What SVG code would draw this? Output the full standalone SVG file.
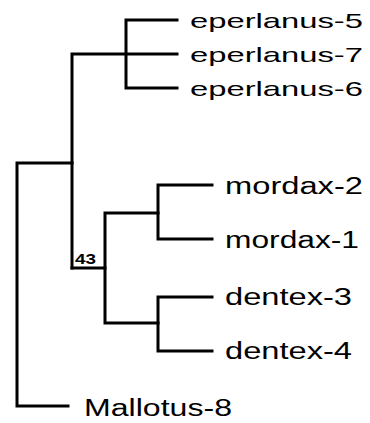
<svg xmlns="http://www.w3.org/2000/svg" width="370" height="423" viewBox="0 0 370 423">
<style>
.br{fill:none;stroke:#000;stroke-width:3;stroke-linecap:square;stroke-linejoin:miter}
.lab{font-family:"Liberation Sans",Arial,sans-serif;fill:#000}
.ep{font-size:21px}
.lf{font-size:23px}
.bs{font-family:"Liberation Sans",Arial,sans-serif;font-size:14px;font-weight:bold;fill:#000}
</style>
<rect width="370" height="423" fill="#fff"/>
<g id="connectors">
<path class="br" d="M68,406 H17 V163 H72"/>
<path class="br" d="M72,268 V54 H177"/>
<path class="br" d="M177,20 H126 V88 H177"/>
<path class="br" d="M72,268 H105 V213 H158"/>
<path class="br" d="M105,268 V323 H158"/>
<path class="br" d="M212,185 H158 V239 H212"/>
<path class="br" d="M212,297 H158 V351 H212"/>
</g>
<g id="eperlanus-5"><text class="lab ep" x="190" y="28" textLength="173" lengthAdjust="spacingAndGlyphs">eperlanus-5</text></g>
<g id="eperlanus-7"><text class="lab ep" x="190" y="62" textLength="173" lengthAdjust="spacingAndGlyphs">eperlanus-7</text></g>
<g id="eperlanus-6"><text class="lab ep" x="190" y="96" textLength="173" lengthAdjust="spacingAndGlyphs">eperlanus-6</text></g>
<g id="mordax-2"><text class="lab lf" x="225" y="194" textLength="138" lengthAdjust="spacingAndGlyphs">mordax-2</text></g>
<g id="mordax-1"><text class="lab lf" x="225" y="248" textLength="134" lengthAdjust="spacingAndGlyphs">mordax-1</text></g>
<g id="dentex-3"><text class="lab lf" x="225" y="305" textLength="127" lengthAdjust="spacingAndGlyphs">dentex-3</text></g>
<g id="dentex-4"><text class="lab lf" x="225" y="359" textLength="127" lengthAdjust="spacingAndGlyphs">dentex-4</text></g>
<g id="Mallotus-8"><text class="lab lf" x="84" y="416" textLength="148" lengthAdjust="spacingAndGlyphs">Mallotus-8</text></g>
<g id="support-43"><text class="bs" x="75" y="264" textLength="21" lengthAdjust="spacingAndGlyphs">43</text></g>
</svg>
